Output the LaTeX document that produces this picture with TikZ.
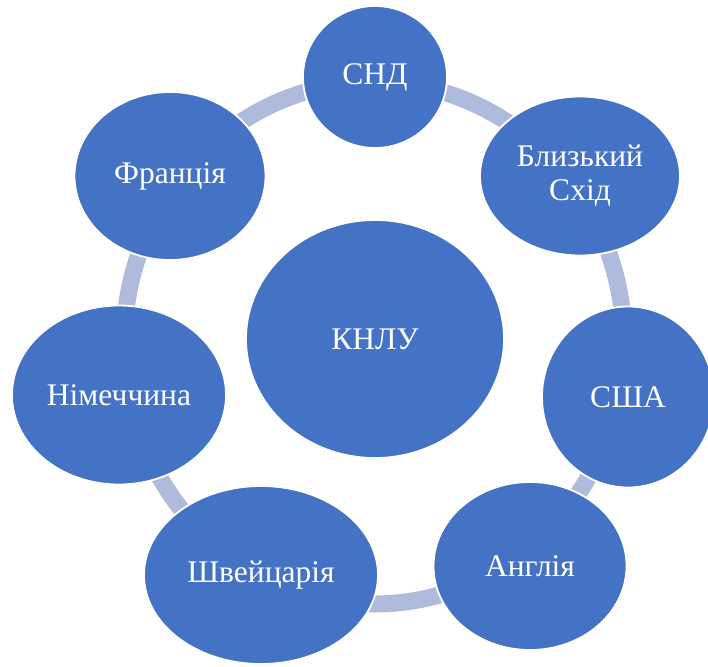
\documentclass[tikz,border=0pt]{standalone}
\usepackage{fontspec}
\setmainfont{Liberation Serif}
\usetikzlibrary{shapes.geometric}
\definecolor{nodeblue}{HTML}{4472C4}
\definecolor{ringblue}{HTML}{AFBBDD}
\tikzset{
  bubble/.style={ellipse, fill=nodeblue, draw=white, line width=1.8pt, inner sep=0pt,
    text=white, align=center, font=\fontsize{31.5}{34}\selectfont},
  ringline/.style={draw=ringblue, line width=17pt}
}
\begin{document}
\begin{tikzpicture}[x=1pt,y=-1pt]
\clip (0,0) rectangle (708,666);
\fill[white] (0,0) rectangle (708,666);
\draw[ringline] (374,343) ellipse [x radius=250, y radius=261];
\node[bubble, minimum width=258pt, minimum height=238pt] (knlu) at (375,339) {КНЛУ};
\node[bubble, minimum width=144pt, minimum height=142pt] (snd) at (375,77) {СНД};
\node[bubble, minimum width=200pt, minimum height=159pt] (bs) at (580,176) {Близький\\Схід};
\node[bubble, minimum width=172pt, minimum height=181pt] (usa) at (628,397) {США};
\node[bubble, minimum width=193pt, minimum height=168pt] (eng) at (530,566) {Англія};
\node[bubble, minimum width=234pt, minimum height=178pt] (swi) at (261,575) {Швейцарія};
\node[bubble, minimum width=214pt, minimum height=179pt] (ger) at (119,395) {Німеччина};
\node[bubble, minimum width=191pt, minimum height=168pt] (fra) at (170,176) {Франція};
\end{tikzpicture}
\end{document}
